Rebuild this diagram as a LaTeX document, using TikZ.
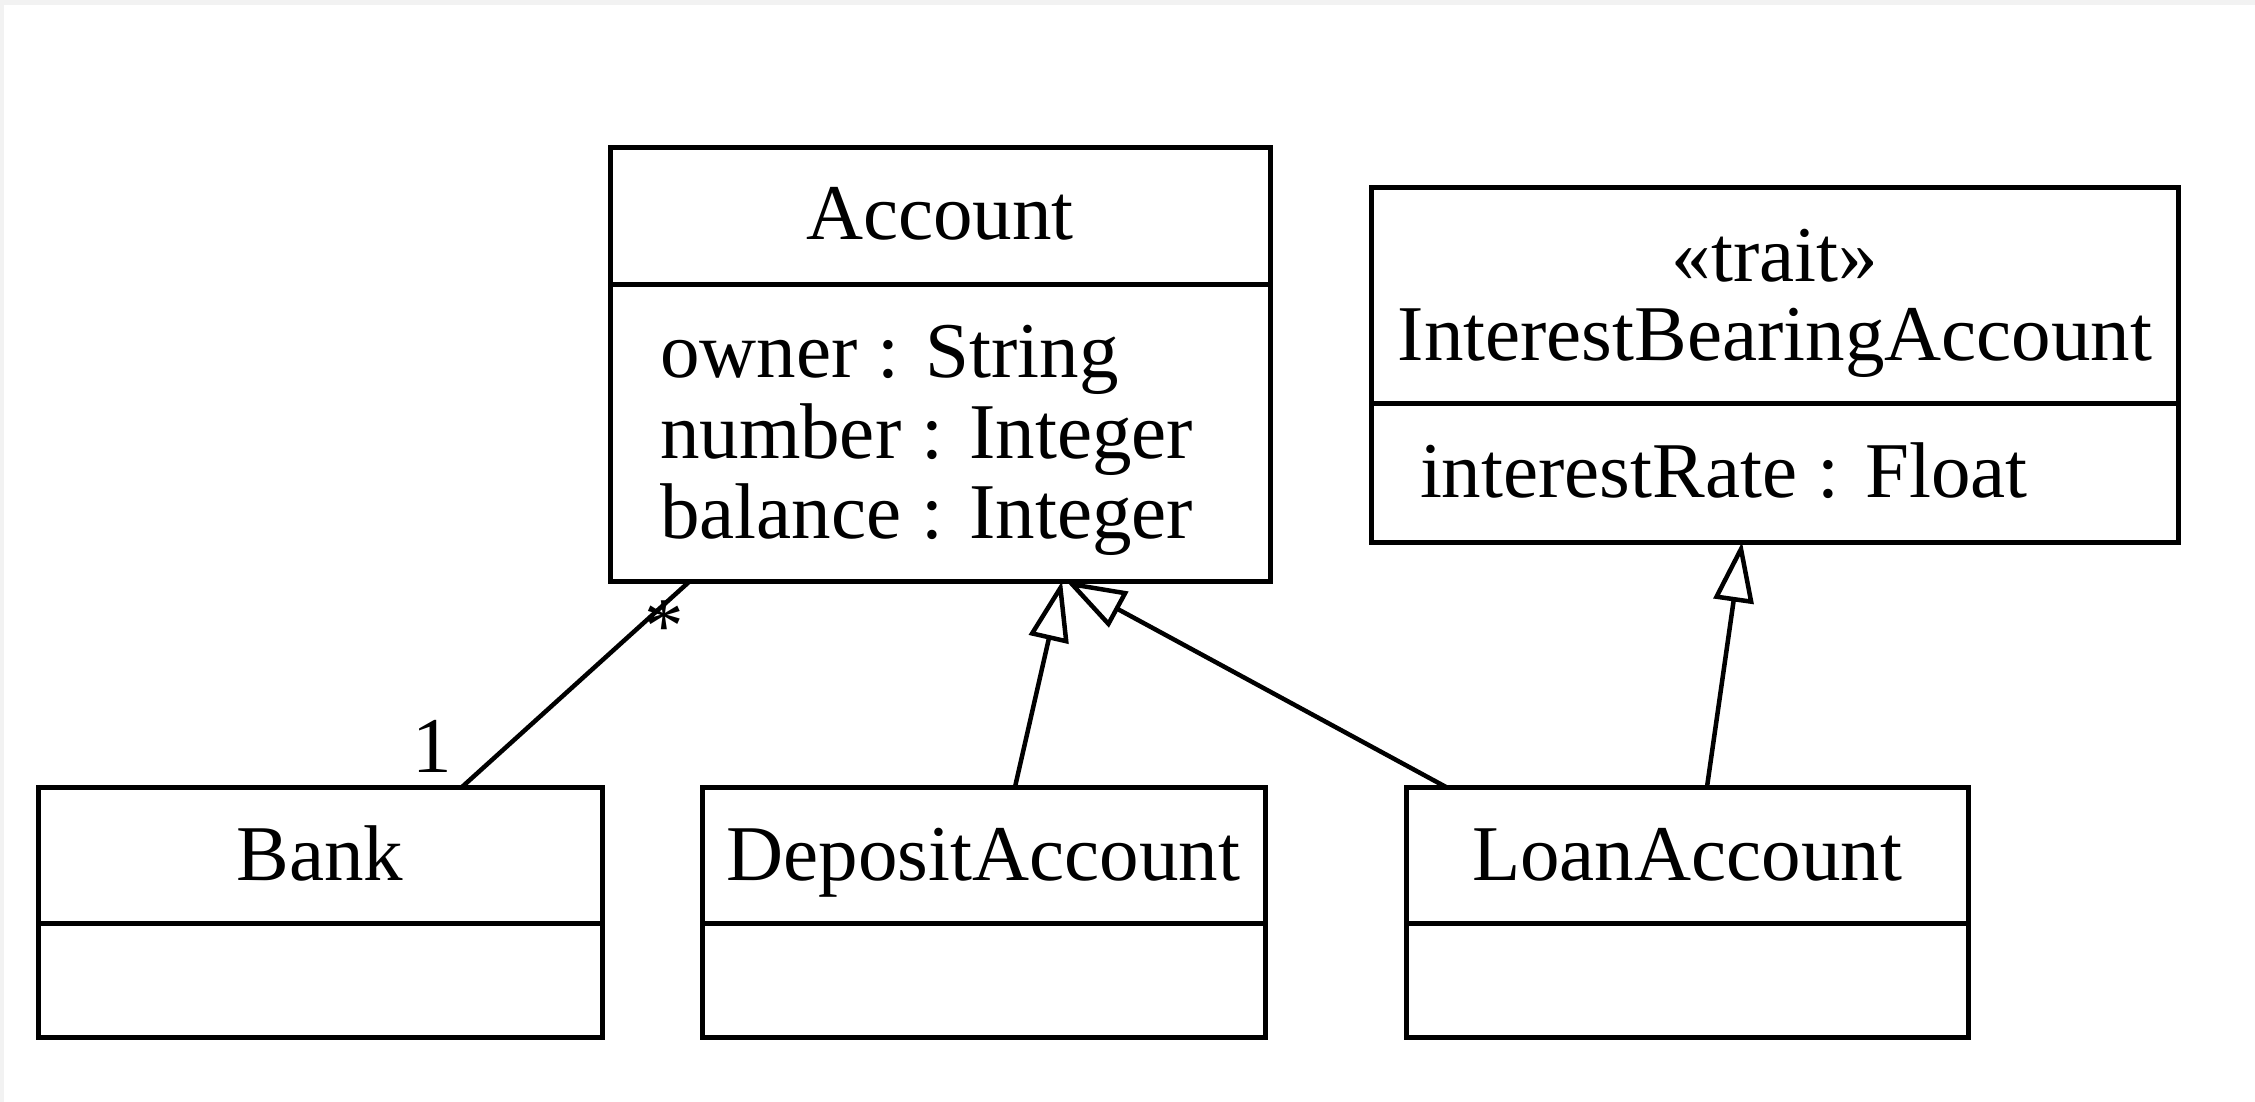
\documentclass[tikz,border=0pt]{standalone}
\usepackage{fontspec}
\setmainfont{Liberation Serif}
\usetikzlibrary{arrows.meta,calc}
\tikzset{
  classbox/.style={draw, line width=5pt, anchor=north west, inner sep=0pt, outer sep=0pt, fill=white},
  divider/.style={line width=5pt},
  txt/.style={anchor=base, inner sep=0pt, outer sep=0pt, font=\fontsize{79}{79}\selectfont},
  attr/.style={txt, anchor=base west},
  assoc/.style={line width=4.5pt},
  gen/.style={line width=4.5pt, -{Triangle[open, length=60pt, width=40pt, fill=white]}},
}
\begin{document}
\begin{tikzpicture}[x=1pt, y=-1pt]
\useasboundingbox (0,0) rectangle (2255,1102);
\fill[white] (0,0) rectangle (2255,1102);
\fill[gray!10] (0,0) rectangle (2255,5);
\fill[gray!10] (0,0) rectangle (4,1102);

% classes
\node[classbox, minimum width=660pt, minimum height=433pt] (account) at (610,148) {};
\draw[divider] ($(account.north west)+(0,136)$) -- ($(account.north east)+(0,136)$);
\node[txt] (accname) at (940,240) {Account};
\node[attr] (acca1) at (660,377) {owner : String};
\node[attr] (acca2) at (660,458) {number : Integer};
\node[attr] (acca3) at (660,538) {balance : Integer};

\node[classbox, minimum width=807pt, minimum height=354pt] (interest) at (1371,188) {};
\draw[divider] ($(interest.north west)+(0,215)$) -- ($(interest.north east)+(0,215)$);
\node[txt] (intster) at (1775,282) {«trait»};
\node[txt] (intname) at (1775,360) {InterestBearingAccount};
\node[attr] (inta1) at (1420,497) {interestRate : Float};

\node[classbox, minimum width=564pt, minimum height=250pt] (bank) at (38,787) {};
\draw[divider] ($(bank.north west)+(0,136)$) -- ($(bank.north east)+(0,136)$);
\node[txt] (bankname) at (320,880) {Bank};

\node[classbox, minimum width=563pt, minimum height=250pt] (deposit) at (702,787) {};
\draw[divider] ($(deposit.north west)+(0,136)$) -- ($(deposit.north east)+(0,136)$);
\node[txt] (depname) at (983.5,880) {DepositAccount};

\node[classbox, minimum width=562pt, minimum height=250pt] (loan) at (1406,787) {};
\draw[divider] ($(loan.north west)+(0,136)$) -- ($(loan.north east)+(0,136)$);
\node[txt] (loanname) at (1687,880) {LoanAccount};

% connectors
\draw[assoc] ($(bank.north west)+(424,0)$) -- ($(account.south west)+(80,0)$);
\node[txt] (mstar) at (664,652) {*};
\node[txt] (mone) at (432,772) {1};

\draw[gen] ($(deposit.north west)+(313,0)$) -- ($(account.south west)+(452,0)$);
\draw[gen] ($(loan.north west)+(40,0)$) -- ($(account.south west)+(456,0)$);
\draw[gen] ($(loan.north west)+(301,0)$) -- ($(interest.south west)+(371,0)$);
\end{tikzpicture}
\end{document}
